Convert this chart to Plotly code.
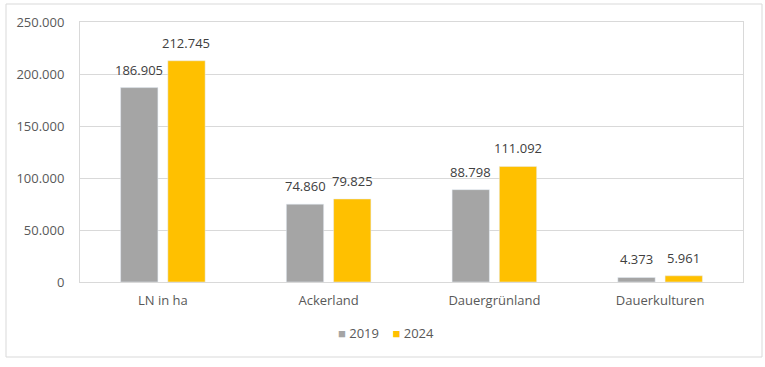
import plotly.graph_objects as go

categories = ["LN in ha", "Ackerland", "Dauergrünland", "Dauerkulturen"]
values_2019 = [186905, 74860, 88798, 4373]
values_2024 = [212745, 79825, 111092, 5961]
labels_2019 = ["186.905", "74.860", "88.798", "4.373"]
labels_2024 = ["212.745", "79.825", "111.092", "5.961"]
tick_vals = [0, 50000, 100000, 150000, 200000, 250000]
tick_text = ["0", "50.000", "100.000", "150.000", "200.000", "250.000"]
series = [("2019", values_2019, labels_2019, "#A5A5A5"),
          ("2024", values_2024, labels_2024, "#FFC000")]

FONT = "Open Sans, Liberation Sans, sans-serif"

fig = go.Figure()
for name, vals, labs, col in series:
    fig.add_trace(go.Bar(x=categories, y=vals, name=name, marker_color=col, showlegend=False,
                         hoverinfo="skip"))

W, H = 765, 367
l, r, t, b = 80, 22, 22, 85
pw, ph = W - l - r, H - t - b

fig.update_layout(
    width=W, height=H,
    margin=dict(l=l, r=r, t=t, b=b, autoexpand=False),
    paper_bgcolor="white", plot_bgcolor="white",
    barmode="group", bargap=0.43, bargroupgap=0.21,
    font=dict(family=FONT, size=13, color="#595959"),
    showlegend=False,
    xaxis=dict(showline=True, linecolor="#D9D9D9", mirror=True, ticks="", automargin=False,
               ticklabelstandoff=6, tickfont=dict(size=13, color="#595959")),
    yaxis=dict(range=[0, 250000], tickvals=tick_vals, ticktext=tick_text, automargin=False,
               showgrid=True, gridcolor="#D9D9D9", showline=True, linecolor="#D9D9D9",
               mirror=True, zeroline=False, ticks="", ticklabelstandoff=12,
               tickfont=dict(size=13, color="#595959")),
)

# value labels above bars
shifts = [-23.5, 23.5]
for (name, vals, labs, col), xs in zip(series, shifts):
    for c, v, lab in zip(categories, vals, labs):
        fig.add_annotation(x=c, y=v, text=lab, showarrow=False, xshift=xs, yshift=7,
                           yanchor="bottom", font=dict(size=13, color="#404040", family=FONT))

# legend built from text
leg_y = (282 - 333) / ph
fig.add_annotation(xref="paper", yref="paper", x=(386 - 80) / pw, y=leg_y, showarrow=False,
                   xanchor="center", yanchor="middle",
                   text="<span style='color:#A5A5A5'>■</span> 2019    <span style='color:#FFC000'>■</span> 2024",
                   font=dict(size=13, color="#595959", family=FONT))

fig.add_shape(type="rect", xref="paper", yref="paper",
              x0=(6 - 80) / pw, x1=(762 - 80) / pw,
              y0=(282 - 357) / ph, y1=(282 - 4) / ph,
              line=dict(color="#D9D9D9", width=1), fillcolor="rgba(0,0,0,0)", layer="below")

fig.write_html("out.html", config={"displayModeBar": False, "staticPlot": True},
               post_script="document.body.style.margin='0';document.body.style.overflow='hidden';")
